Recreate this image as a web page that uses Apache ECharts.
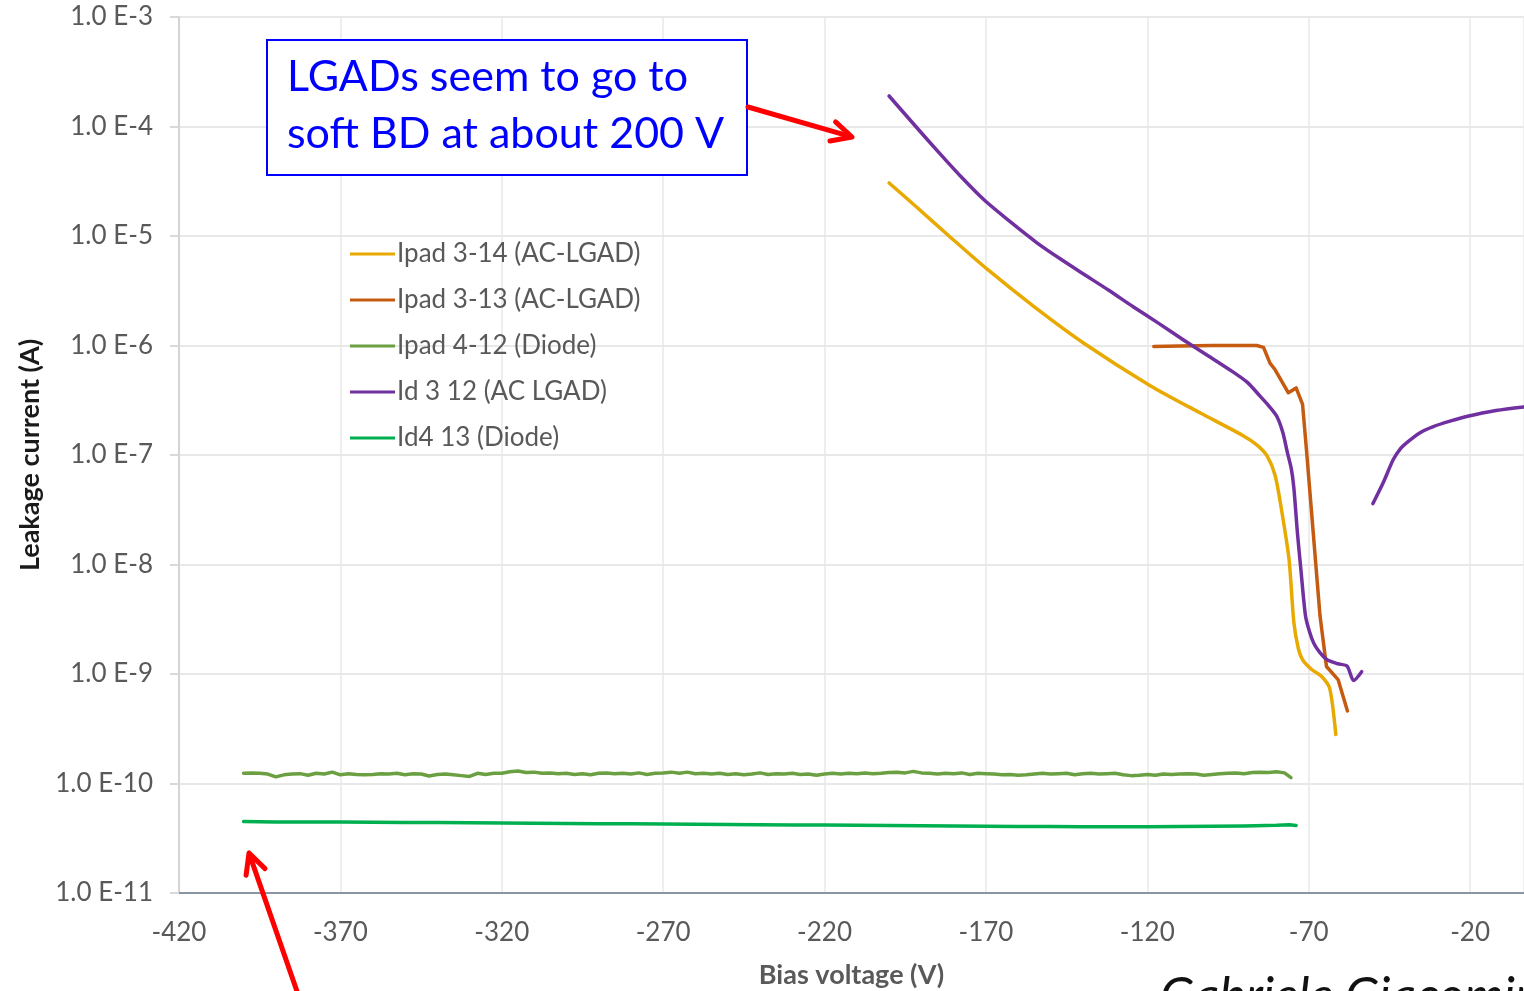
<!DOCTYPE html>
<html>
<head>
<meta charset="utf-8">
<title>Leakage current vs bias voltage</title>
<script src="https://cdn.jsdelivr.net/npm/echarts@6/dist/echarts.min.js"></script>
<style>
  html, body { margin: 0; padding: 0; background: #ffffff; }
  #chart { width: 1524px; height: 991px; }
</style>
</head>
<body>
<div id="chart"></div>
<script>
// Series names, in legend order
const seriesNames = [
  'Ipad 3-14 (AC-LGAD)',
  'Ipad 3-13 (AC-LGAD)',
  'Ipad 4-12 (Diode)',
  'Id 3 12 (AC LGAD)',
  'Id4 13 (Diode)'
];

// Y axis tick labels, one per decade from 1e-11 to 1e-3
const yTickLabels = ['1.0 E-11', '1.0 E-10', '1.0 E-9', '1.0 E-8', '1.0 E-7', '1.0 E-6', '1.0 E-5', '1.0 E-4', '1.0 E-3'];

// [bias voltage (V), leakage current (A)]
const ipad314 = [
  [-200, 3.05e-5], [-191.6, 1.85e-5], [-181.1, 9.8e-6], [-169.7, 5.0e-6], [-155.4, 2.3e-6],
  [-139.9, 1.06e-6], [-119.1, 4.3e-7], [-103.7, 2.43e-7], [-90.3, 1.5e-7], [-86, 1.23e-7],
  [-82.9, 9.8e-8], [-80.4, 6.5e-8], [-78.3, 3.0e-8], [-76.1, 1.12e-8], [-74.6, 2.95e-9],
  [-73.2, 1.7e-9], [-71.9, 1.35e-9], [-69.1, 1.1e-9], [-66.0, 9.5e-10], [-63.5, 7.4e-10],
  [-61.6, 2.8e-10]
];

const ipad313 = [
  [-118, 9.8e-7], [-110, 9.9e-7], [-100, 1.0e-6], [-92, 1.0e-6], [-86.1, 1.0e-6],
  [-84.0, 9.6e-7], [-82.0, 6.9e-7], [-80.4, 6.0e-7], [-76.3, 3.7e-7], [-73.9, 4.1e-7],
  [-71.9, 2.9e-7], [-70.7, 1.12e-7], [-68.6, 1.95e-8], [-66.5, 3.4e-9], [-64.5, 1.17e-9],
  [-60.9, 8.9e-10], [-58.0, 4.6e-10]
];

const ipad412 = [
  [-400, 1.24e-10], [-397.5, 1.25e-10], [-395, 1.24e-10], [-392.5, 1.22e-10], [-390, 1.15e-10],
  [-387.5, 1.2e-10], [-385, 1.22e-10], [-382.5, 1.23e-10], [-380, 1.19e-10], [-377.5, 1.24e-10],
  [-375, 1.22e-10], [-372.5, 1.27e-10], [-370, 1.2e-10], [-367.5, 1.23e-10], [-365, 1.21e-10],
  [-362.5, 1.2e-10], [-360, 1.21e-10], [-357.5, 1.23e-10], [-355, 1.22e-10], [-352.5, 1.24e-10],
  [-350, 1.2e-10], [-347.5, 1.23e-10], [-345, 1.22e-10], [-342.5, 1.17e-10], [-340, 1.21e-10],
  [-337.5, 1.22e-10], [-335, 1.2e-10], [-332.5, 1.18e-10], [-330, 1.16e-10], [-327.5, 1.24e-10],
  [-325, 1.21e-10], [-322.5, 1.24e-10], [-320, 1.24e-10], [-317.5, 1.28e-10], [-315, 1.3e-10],
  [-312.5, 1.26e-10], [-310, 1.27e-10], [-307.5, 1.24e-10], [-305, 1.25e-10], [-302.5, 1.23e-10],
  [-300, 1.24e-10], [-297.5, 1.21e-10], [-295, 1.23e-10], [-292.5, 1.2e-10], [-290, 1.24e-10],
  [-287.5, 1.25e-10], [-285, 1.23e-10], [-282.5, 1.24e-10], [-280, 1.22e-10], [-277.5, 1.25e-10],
  [-275, 1.21e-10], [-272.5, 1.24e-10], [-270, 1.25e-10], [-267.5, 1.27e-10], [-265, 1.24e-10],
  [-262.5, 1.27e-10], [-260, 1.23e-10], [-257.5, 1.24e-10], [-255, 1.22e-10], [-252.5, 1.24e-10],
  [-250, 1.21e-10], [-247.5, 1.23e-10], [-245, 1.2e-10], [-242.5, 1.22e-10], [-240, 1.25e-10],
  [-237.5, 1.21e-10], [-235, 1.23e-10], [-232.5, 1.22e-10], [-230, 1.24e-10], [-227.5, 1.21e-10],
  [-225, 1.22e-10], [-222.5, 1.19e-10], [-220, 1.22e-10], [-217.5, 1.24e-10], [-215, 1.22e-10],
  [-212.5, 1.24e-10], [-210, 1.23e-10], [-207.5, 1.25e-10], [-205, 1.23e-10], [-202.5, 1.24e-10],
  [-200, 1.26e-10], [-197.5, 1.27e-10], [-195, 1.25e-10], [-192.5, 1.29e-10], [-190, 1.25e-10],
  [-187.5, 1.24e-10], [-185, 1.22e-10], [-182.5, 1.24e-10], [-180, 1.23e-10], [-177.5, 1.25e-10],
  [-175, 1.21e-10], [-172.5, 1.24e-10], [-170, 1.23e-10], [-167.5, 1.22e-10], [-165, 1.2e-10],
  [-162.5, 1.21e-10], [-160, 1.19e-10], [-157.5, 1.2e-10], [-155, 1.22e-10], [-152.5, 1.24e-10],
  [-150, 1.22e-10], [-147.5, 1.23e-10], [-145, 1.24e-10], [-142.5, 1.2e-10], [-140, 1.23e-10],
  [-137.5, 1.24e-10], [-135, 1.22e-10], [-132.5, 1.23e-10], [-130, 1.24e-10], [-127.5, 1.2e-10],
  [-125, 1.18e-10], [-122.5, 1.19e-10], [-120, 1.21e-10], [-117.5, 1.19e-10], [-115, 1.22e-10],
  [-112.5, 1.21e-10], [-110, 1.22e-10], [-107.5, 1.23e-10], [-105, 1.22e-10], [-102.5, 1.19e-10],
  [-100, 1.21e-10], [-97.5, 1.23e-10], [-95, 1.24e-10], [-92.5, 1.25e-10], [-90, 1.23e-10],
  [-87.5, 1.26e-10], [-85, 1.27e-10], [-82.5, 1.26e-10], [-80, 1.28e-10], [-77.5, 1.25e-10],
  [-75.5, 1.13e-10]
];

// the null splits the sweep into its two measured branches
const id312 = [
  [-200, 1.9e-4], [-191.6, 9.9e-5], [-184.2, 5.62e-5], [-177.4, 3.4e-5], [-170.6, 2.14e-5],
  [-162.5, 1.35e-5], [-154.2, 8.67e-6], [-147, 6.19e-6], [-139.9, 4.52e-6], [-132.2, 3.23e-6],
  [-124.4, 2.26e-6], [-116.7, 1.61e-6], [-108.9, 1.13e-6], [-101.2, 8.07e-7], [-93.6, 5.77e-7],
  [-89, 4.6e-7], [-85.0, 3.43e-7], [-82.3, 2.8e-7], [-79.9, 2.26e-7], [-78.0, 1.6e-7],
  [-76.6, 1.05e-7], [-75.4, 7.5e-8], [-74.6, 5.0e-8], [-73.5, 1.95e-8], [-72.5, 9.5e-9],
  [-71.0, 3.4e-9], [-69.7, 2.4e-9], [-68.4, 1.9e-9], [-66.4, 1.55e-9], [-64.3, 1.35e-9],
  [-61, 1.24e-9], [-58.1, 1.18e-9], [-56.1, 8.7e-10], [-53.6, 1.05e-9],
  [-52, null],
  [-50.1, 3.6e-8], [-46.9, 5.6e-8], [-43.8, 9.1e-8], [-41.5, 1.15e-7], [-39.6, 1.3e-7],
  [-35.5, 1.6e-7], [-31.4, 1.82e-7], [-26, 2.05e-7], [-21.1, 2.25e-7], [-12, 2.55e-7],
  [-3.4, 2.75e-7], [0, 2.8e-7]
];

const id413 = [
  [-400, 4.5e-11], [-390, 4.46e-11], [-380, 4.45e-11], [-370, 4.45e-11], [-360, 4.43e-11],
  [-350, 4.41e-11], [-340, 4.4e-11], [-330, 4.38e-11], [-320, 4.35e-11], [-310, 4.33e-11],
  [-300, 4.32e-11], [-290, 4.3e-11], [-280, 4.28e-11], [-270, 4.26e-11], [-260, 4.24e-11],
  [-250, 4.22e-11], [-240, 4.2e-11], [-230, 4.18e-11], [-220, 4.17e-11], [-210, 4.15e-11],
  [-200, 4.13e-11], [-190, 4.12e-11], [-180, 4.1e-11], [-170, 4.08e-11], [-160, 4.05e-11],
  [-150, 4.04e-11], [-140, 4.03e-11], [-130, 4.03e-11], [-120, 4.03e-11], [-110, 4.05e-11],
  [-100, 4.08e-11], [-90, 4.1e-11], [-80, 4.15e-11], [-76, 4.2e-11], [-73.9, 4.14e-11]
];

const seriesData = [ipad314, ipad313, ipad412, id312, id413];
const seriesColors = ['#e8a900', '#c55a11', '#6aa041', '#7030a0', '#00b050'];
const seriesSmooth = [0.25, false, false, 0.25, false];

const FONT = 'Lato, "Open Sans", sans-serif';
const GRID_COLOR = '#e8e8e8';

const chart = echarts.init(document.getElementById('chart'), null, { renderer: 'canvas' });

// red arrow with an open chevron head, drawn in page pixels
function arrow(x1, y1, x2, y2) {
  const dx = x2 - x1, dy = y2 - y1, len = Math.hypot(dx, dy);
  const ux = dx / len, uy = dy / len, px = -uy, py = ux;
  const back = 20, half = 10;
  const style = { stroke: '#ff0000', lineWidth: 5, fill: null, lineCap: 'round', lineJoin: 'round' };
  return [
    { type: 'line', z: 100, shape: { x1, y1, x2: x2 - ux * 2, y2: y2 - uy * 2 }, style },
    { type: 'polyline', z: 100, shape: { points: [
      [x2 - ux * back + px * half, y2 - uy * back + py * half],
      [x2, y2],
      [x2 - ux * back - px * half, y2 - uy * back - py * half]
    ] }, style }
  ];
}

const option = {
  backgroundColor: '#ffffff',
  animation: false,
  grid: { left: 179, top: 17, right: 0, bottom: 98, containLabel: false, outerBoundsMode: 'none' },
  legend: {
    data: seriesNames,
    orient: 'vertical',
    left: 350,
    top: 240,
    padding: 0,
    icon: 'rect',
    itemWidth: 45,
    itemHeight: 3,
    itemGap: 18,
    textStyle: { fontFamily: FONT, fontSize: 26, color: '#595959', lineHeight: 28, padding: [0, 0, 0, -3] }
  },
  xAxis: {
    type: 'value',
    min: -420,
    max: -3.3,
    interval: 50,
    name: 'Bias voltage (V)',
    nameLocation: 'middle',
    nameGap: 69,
    nameTextStyle: { fontFamily: FONT, fontSize: 27, fontWeight: 'bold', color: '#595959' },
    axisLine: { show: true, onZero: false, lineStyle: { color: '#8a95a3', width: 2 } },
    axisTick: { show: false },
    axisLabel: { fontFamily: FONT, fontSize: 26, color: '#595959', margin: 27, showMaxLabel: false },
    splitLine: { show: true, lineStyle: { color: GRID_COLOR, width: 1.5 } }
  },
  yAxis: {
    type: 'log',
    logBase: 10,
    min: 1e-11,
    max: 1e-3,
    splitNumber: 8,
    name: 'Leakage current (A)',
    nameLocation: 'middle',
    nameGap: 135,
    nameRotate: 90,
    nameTextStyle: { fontFamily: FONT, fontSize: 27, fontWeight: 'bold', color: '#1a1a1a' },
    axisLine: { show: true, onZero: false, lineStyle: { color: '#d4d4d4', width: 2 } },
    axisTick: { show: true, inside: false, length: 9, lineStyle: { color: '#d9d9d9', width: 2 } },
    axisLabel: {
      fontFamily: FONT, fontSize: 26, color: '#595959', margin: 26,
      formatter: v => yTickLabels[Math.round(Math.log10(v)) + 11] || ''
    },
    splitLine: { show: true, lineStyle: { color: GRID_COLOR, width: 2 } }
  },
  series: seriesNames.map((name, i) => ({
    name,
    type: 'line',
    data: seriesData[i],
    color: seriesColors[i],
    showSymbol: false,
    symbol: 'none',
    smooth: seriesSmooth[i],
    connectNulls: false,
    lineStyle: { width: 3.5, color: seriesColors[i], cap: 'round', join: 'round' },
    z: 3
  })),
  graphic: [
    {
      type: 'rect', z: 90,
      shape: { x: 267, y: 40, width: 480, height: 135 },
      style: { fill: '#ffffff', stroke: '#0000ff', lineWidth: 2 }
    },
    {
      type: 'text', z: 95, left: 287, top: 56,
      style: { text: 'LGADs seem to go to', font: '43px ' + FONT, fill: '#0000ff' }
    },
    {
      type: 'text', z: 95, left: 287, top: 113,
      style: { text: 'soft BD at about 200 V', font: '43px ' + FONT, fill: '#0000ff' }
    },
    ...arrow(748, 107, 852, 137),
    ...arrow(300, 1000, 249, 853),
    {
      type: 'text', z: 95, left: 1160, top: 972,
      style: { text: 'Gabriele Giacomini', font: 'italic 50px ' + FONT, fill: '#111111' }
    }
  ]
};

chart.setOption(option);
</script>
</body>
</html>
